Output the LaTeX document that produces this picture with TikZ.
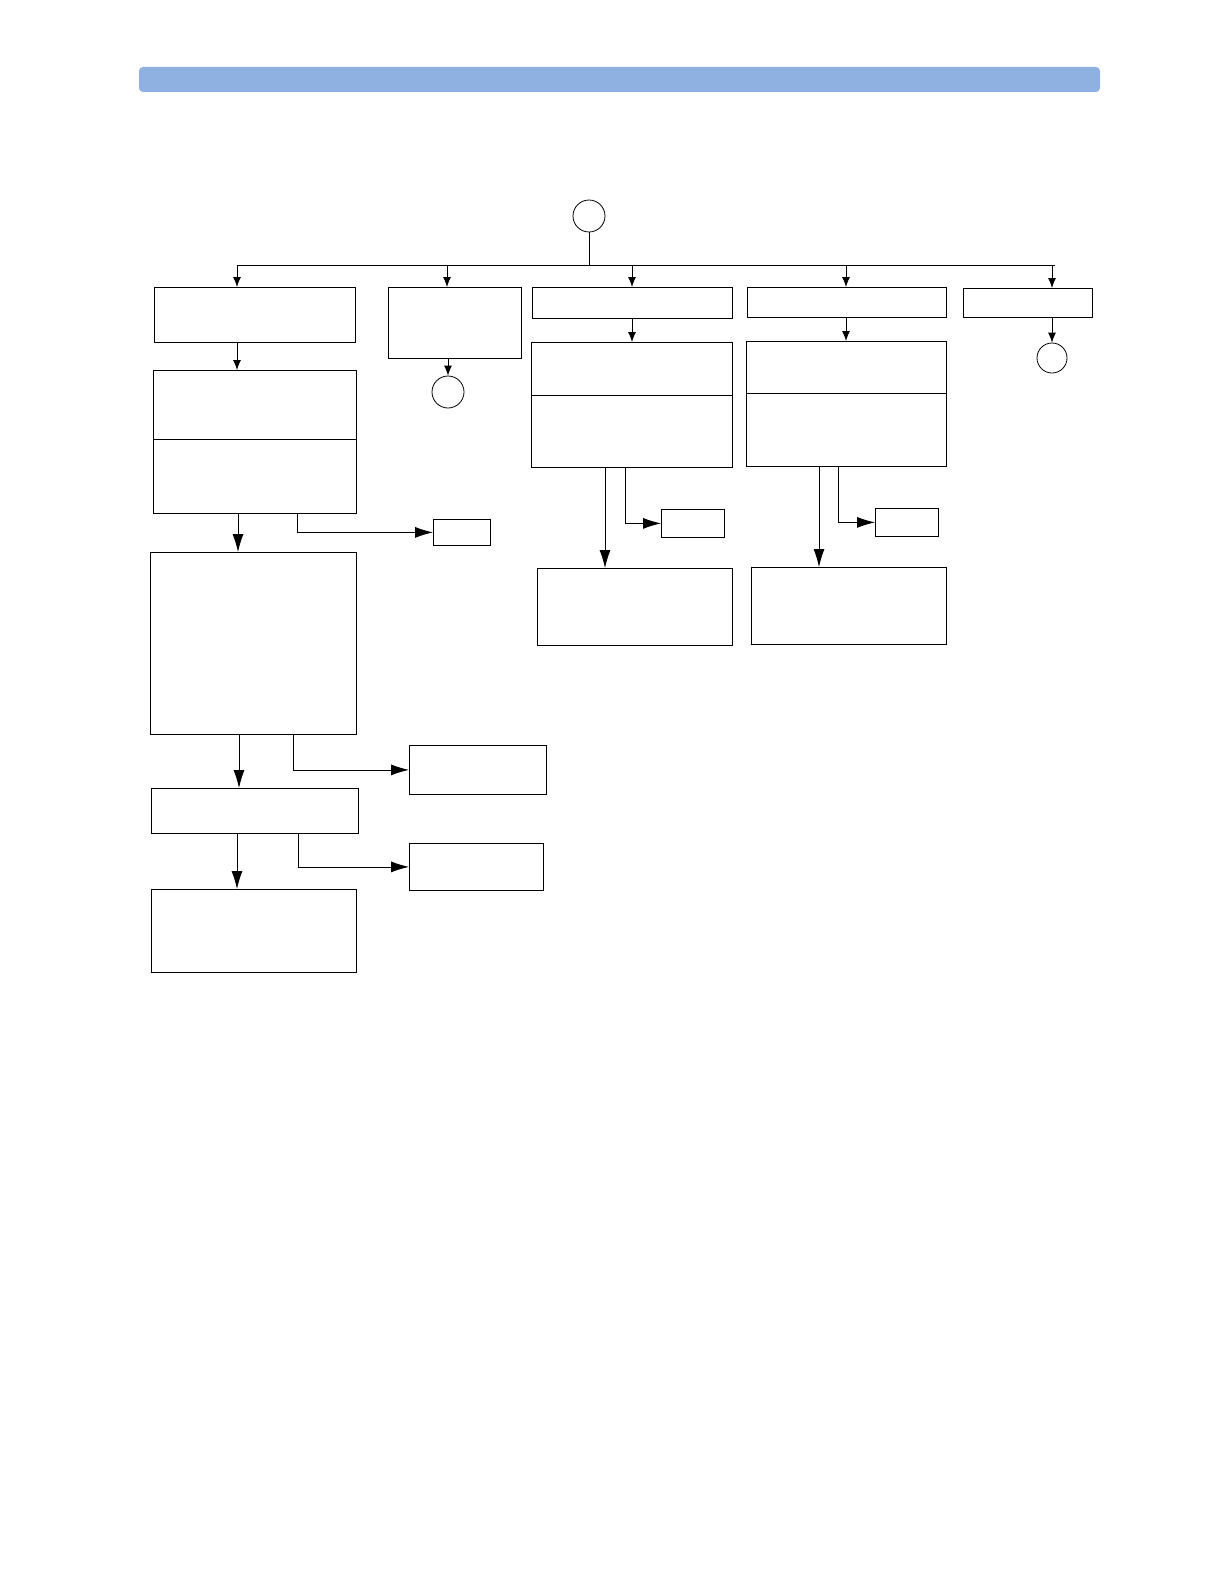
\documentclass[tikz,border=0pt]{standalone}
\usetikzlibrary{arrows.meta}
\definecolor{hdr}{HTML}{8EB1E1}
\begin{document}
\begin{tikzpicture}[x=1bp,y=-1bp,
  bx/.style={draw,line width=0.8pt,inner sep=0pt,anchor=north west},
  ln/.style={line width=0.8pt},
  arr/.style={ln,-{Latex[length=10bp,width=8bp]}},
  barr/.style={ln,-{Latex[length=18bp,width=11bp]}},
  cir/.style={draw,circle,line width=0.8pt,inner sep=0pt}]
\useasboundingbox (0,0) rectangle (1224,1582);
\fill[hdr,rounded corners=4bp] (139,67) rectangle (1100,92);
\node[cir,minimum size=32bp] (top) at (589,216) {};
\coordinate (j) at (589,265);
\draw[ln] (top.south) -- (j);
\draw[ln] (237,265) -- (1055,265);
\newcommand{\bxat}[5]{\node[bx,minimum width=#4bp-#2bp,minimum height=#5bp-#3bp] (#1) at (#2,#3) {};}
\bxat{b1}{154}{287}{355}{342}
\bxat{b1b}{153}{370}{356}{513}
\bxat{b1c}{150}{552}{356}{734}
\bxat{b1d}{151}{788}{358}{833}
\bxat{b1e}{151}{889}{356}{972}
\bxat{s1}{433}{519}{490}{545}
\bxat{s2}{409}{745}{546}{794}
\bxat{s3}{409}{843}{543}{890}
\bxat{b2}{388}{287}{521}{358}
\bxat{b3}{532}{287}{732}{318}
\bxat{b3b}{531}{342}{732}{467}
\bxat{b3c}{537}{568}{732}{645}
\bxat{s4}{661}{509}{724}{537}
\bxat{b4}{747}{287}{946}{317}
\bxat{b4b}{746}{341}{946}{466}
\bxat{b4c}{751}{567}{946}{644}
\bxat{s5}{875}{508}{938}{536}
\bxat{b5}{963}{288}{1092}{317}
\node[cir,minimum size=32bp] (c2) at (448,392) {};
\node[cir,minimum size=30bp] (c5) at (1052,358) {};
\draw[ln] (153,439) -- (356,439);
\draw[ln] (531,395) -- (732,395);
\draw[ln] (746,393) -- (946,393);
\draw[arr] (237,265) -- (b1.north -| 237,0);
\draw[arr] (447,265) -- (b2.north -| 447,0);
\draw[arr] (632,265) -- (b3.north -| 632,0);
\draw[arr] (846,265) -- (b4.north -| 846,0);
\draw[arr] (1052,265) -- (b5.north -| 1052,0);
\draw[arr] (b1.south -| 237,0) -- (b1b.north -| 237,0);
\draw[barr] (b1b.south -| 238,0) -- (b1c.north -| 238,0);
\draw[barr] (b1c.south -| 239,0) -- (b1d.north -| 239,0);
\draw[barr] (b1d.south -| 237,0) -- (b1e.north -| 237,0);
\draw[barr] (b1b.south -| 297,0) |- (s1.west);
\draw[barr] (b1c.south -| 293,0) |- (s2.west);
\draw[barr] (b1d.south -| 298,0) |- (s3.west);
\draw[arr] (b2.south -| 448,0) -- (c2.north);
\draw[arr] (b3.south -| 632,0) -- (b3b.north -| 632,0);
\draw[barr] (b3b.south -| 605,0) -- (b3c.north -| 605,0);
\draw[barr] (b3b.south -| 625,0) |- (s4.west);
\draw[arr] (b4.south -| 846,0) -- (b4b.north -| 846,0);
\draw[barr] (b4b.south -| 819,0) -- (b4c.north -| 819,0);
\draw[barr] (b4b.south -| 838,0) |- (s5.west);
\draw[arr] (b5.south -| 1052,0) -- (c5.north);
\end{tikzpicture}
\end{document}
